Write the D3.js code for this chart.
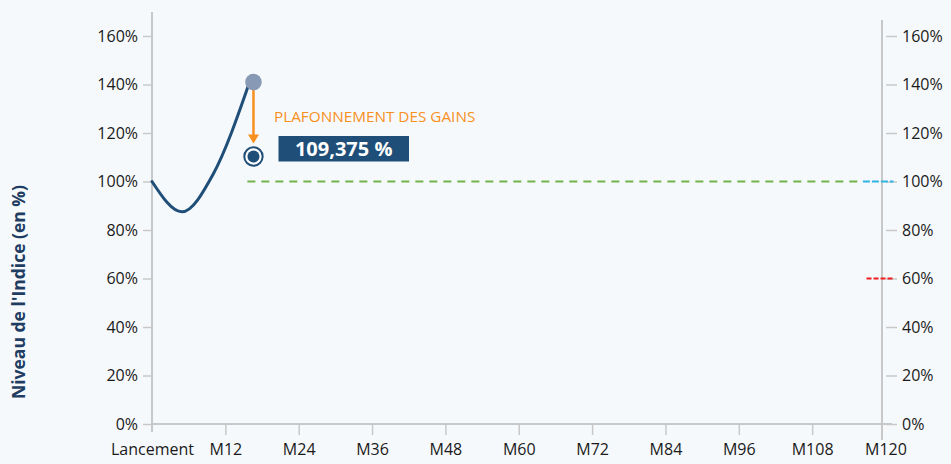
<!DOCTYPE html>
<html>
<head>
<meta charset="utf-8">
<script src="https://cdn.jsdelivr.net/npm/d3@7"></script>
<style>
  html, body { margin:0; padding:0; background:#f6f9fb; }
  svg { display:block; font-family:"Open Sans", sans-serif; }
</style>
</head>
<body>
<div id="chart"></div>
<script>
// --- data ---
const curveMonths = [0, 4.9, 10, 15.9];
const curveLevels = [100, 87.5, 103, 140.5];

const xTickMonths = [0, 12, 24, 36, 48, 60, 72, 84, 96, 108, 120];
const xTickLabels = ["Lancement","M12","M24","M36","M48","M60","M72","M84","M96","M108","M120"];
const yTicks = [0, 20, 40, 60, 80, 100, 120, 140, 160];

const capMonth = 16.6;        // where the gain cap is applied
const capLevel = 141;         // index level before cap
const cappedLevel = 110.3;    // position of capped point
const capText = "109,375 %";
const capTitle = "PLAFONNEMENT DES GAINS";

// reference dashed lines: level, from month, to month
const refLevels = [100, 100, 60];
const refFrom   = [15.6, 116.3, 116.9];
const refTo     = [115.5, 121.3, 121.3];
const refColors = ["#72b34b", "#2cb4e2", "#ee1c1c"];
const refDashes = ["8,6", "7,2", "5,2"];

const width = 951, height = 464;
const navy = "#1f4e79";

const svg = d3.select("#chart").append("svg")
  .attr("width", width).attr("height", height);

svg.append("rect").attr("width", width).attr("height", height).attr("fill", "#f6f9fb");

const x = d3.scaleLinear().domain([0, 120]).range([152, 885.5]);
const y = d3.scaleLinear().domain([0, 160]).range([424, 36]);
const rightX = 882;

// left axis
const gl = svg.append("g").attr("transform", "translate(152,0)")
  .call(d3.axisLeft(y).tickValues(yTicks).tickFormat(d => d + "%").tickSize(9).tickPadding(5));
gl.select(".domain").remove();
gl.append("line").attr("x1", 0).attr("x2", 0).attr("y1", 12).attr("y2", 432)
  .attr("stroke", "#c8c8c8").attr("stroke-width", 2);
gl.selectAll(".tick line").attr("stroke", "#c8c8c8").attr("stroke-width", 1.5);
gl.selectAll(".tick text").attr("font-size", 16).attr("fill", "#1a1a1a")
  .attr("font-family", "Open Sans");

// right axis
const gr = svg.append("g").attr("transform", `translate(${rightX},0)`)
  .call(d3.axisRight(y).tickValues(yTicks).tickFormat(d => d + "%").tickSize(0).tickPadding(20));
gr.select(".domain").remove();
gr.append("line").attr("x1", 0).attr("x2", 0).attr("y1", 20).attr("y2", 440)
  .attr("stroke", "#c8c8c8").attr("stroke-width", 2);
gr.selectAll(".tick").append("line").attr("x1", 4).attr("x2", 15)
  .attr("stroke", "#c8c8c8").attr("stroke-width", 1.5);
gr.selectAll(".tick text").attr("font-size", 16).attr("fill", "#1a1a1a")
  .attr("font-family", "Open Sans");

// bottom axis
const gb = svg.append("g").attr("transform", "translate(0,424)")
  .call(d3.axisBottom(x).tickValues(xTickMonths).tickFormat((d, i) => xTickLabels[i]).tickSize(11).tickPadding(9));
gb.select(".domain").remove();
gb.append("line").attr("x1", 152).attr("x2", 892).attr("y1", 0).attr("y2", 0)
  .attr("stroke", "#c8c8c8").attr("stroke-width", 2);
gb.selectAll(".tick line").attr("stroke", "#c8c8c8").attr("stroke-width", 1.5)
  .filter(d => d === 0 || d === 120).remove();
gb.selectAll(".tick text").attr("font-size", 16).attr("fill", "#1a1a1a")
  .attr("font-family", "Open Sans");

// y title
svg.append("text")
  .attr("transform", "translate(25,292) rotate(-90)")
  .attr("text-anchor", "middle")
  .attr("font-size", 17.5).attr("font-weight", "bold").attr("fill", "#1f3d63")
  .text("Niveau de l'Indice (en %)");

// reference dashed lines
refLevels.forEach((lv, i) => {
  svg.append("line")
    .attr("x1", x(refFrom[i])).attr("x2", x(refTo[i]))
    .attr("y1", y(lv)).attr("y2", y(lv))
    .attr("stroke", refColors[i]).attr("stroke-width", 2)
    .attr("stroke-dasharray", refDashes[i]);
});

// index path
const pts = curveMonths.map((m, i) => [m, curveLevels[i]]);
svg.append("path")
  .datum(pts)
  .attr("fill", "none").attr("stroke", navy).attr("stroke-width", 3)
  .attr("stroke-linecap", "round")
  .attr("d", d3.line().x(d => x(d[0])).y(d => y(d[1])).curve(d3.curveMonotoneX));

// cap arrow
const ax = x(capMonth);
svg.append("line")
  .attr("x1", ax).attr("x2", ax)
  .attr("y1", y(capLevel)).attr("y2", y(cappedLevel) - 17)
  .attr("stroke", "#f7901e").attr("stroke-width", 2.5);
const tipY = y(cappedLevel) - 13;
svg.append("path")
  .attr("d", `M${ax - 5.5},${tipY - 9} L${ax + 5.5},${tipY - 9} L${ax},${tipY} Z`)
  .attr("fill", "#f7901e");

// top point
svg.append("circle").attr("cx", ax).attr("cy", y(capLevel)).attr("r", 8.3).attr("fill", "#8799b4");

// capped point
svg.append("circle").attr("cx", ax).attr("cy", y(cappedLevel)).attr("r", 9.2)
  .attr("fill", "#fff").attr("stroke", navy).attr("stroke-width", 2);
svg.append("circle").attr("cx", ax).attr("cy", y(cappedLevel)).attr("r", 6).attr("fill", navy);

// labels
svg.append("text")
  .attr("x", 274).attr("y", 121.5)
  .attr("font-size", 15.3).attr("fill", "#f7901e")
  .text(capTitle);

svg.append("rect")
  .attr("x", 278.5).attr("y", 136).attr("width", 130.5).attr("height", 25.5)
  .attr("fill", navy);
svg.append("text")
  .attr("x", 343.7).attr("y", 155.5)
  .attr("text-anchor", "middle")
  .attr("font-size", 20).attr("font-weight", "bold").attr("fill", "#fff")
  .text(capText);
</script>
</body>
</html>
